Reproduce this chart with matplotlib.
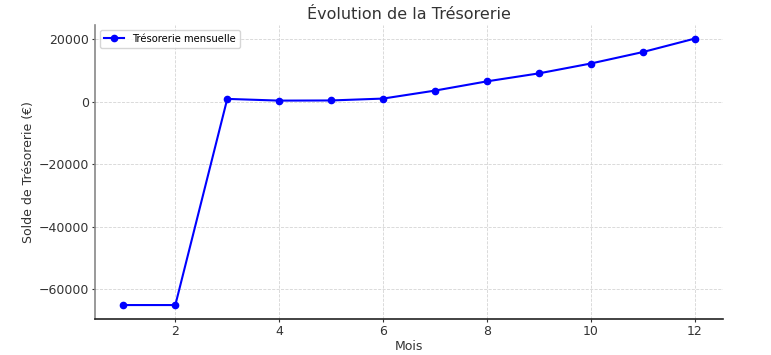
import matplotlib.pyplot as plt

# Monthly cash balance
mois = [1, 2, 3, 4, 5, 6, 7, 8, 9, 10, 11, 12]
tresorerie = [-65000, -65000, 850, 300, 350, 950, 3500, 6450, 9000, 12150, 15800, 20100]

fig = plt.figure(figsize=(7.71, 3.55), dpi=100)
ax = fig.add_axes([0.123, 0.101, 0.815, 0.829])

ax.plot(mois, tresorerie, color='blue', marker='o', markersize=4.5,
        linewidth=1.5, label='Trésorerie mensuelle')

ax.set_title('Évolution de la Trésorerie', fontsize=11.5, color='#333333', pad=4)
ax.set_xlabel('Mois', fontsize=9, color='#333333', labelpad=2)
ax.set_ylabel('Solde de Trésorerie (€)', fontsize=9, color='#333333', labelpad=3)

ax.grid(True, linestyle='--', linewidth=0.6, color='#d5d5d5')
ax.spines['top'].set_visible(False)
ax.spines['right'].set_visible(False)
ax.spines['left'].set_color('#888888')
ax.spines['left'].set_linewidth(1.2)
ax.spines['bottom'].set_color('#222222')
ax.spines['bottom'].set_linewidth(1.2)
ax.tick_params(labelsize=9, colors='#333333', length=2, pad=2)
ax.set_xlim(0.45, 12.55)
ax.set_ylim(-69500, 24500)

leg = ax.legend(loc='upper left', fontsize=7.2, frameon=True)
leg.get_frame().set_edgecolor('#cccccc')

fig.savefig('out.png', dpi=100)
